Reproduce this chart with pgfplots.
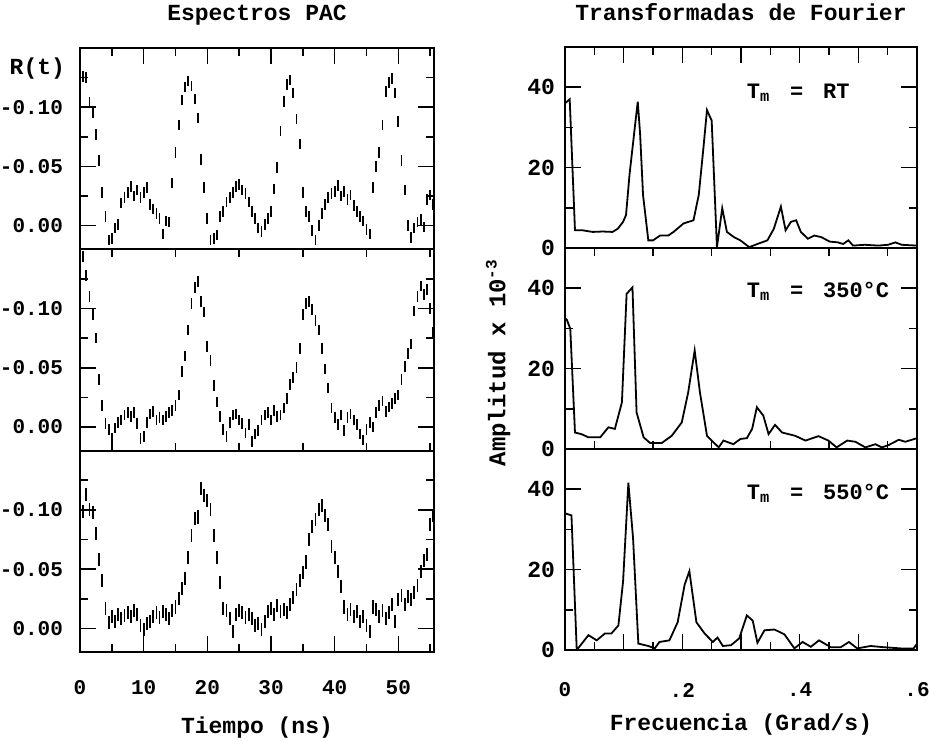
\documentclass[border=0pt]{standalone}
\usepackage{fontspec}
\setmainfont{Liberation Mono}
\usepackage{pgfplots}
\usepackage{pgfplotstable}
\pgfplotsset{compat=1.18}
\newcommand\ff[1]{\fontsize{#1}{#1}\selectfont\bfseries}

% R(t) espectros PAC, T_m = RT, 350 C, 550 C
\pgfplotstableread{
t R
0.5 -0.126
1.0 -0.125
1.5 -0.104
2.0 -0.095
2.5 -0.077
3.0 -0.055
3.5 -0.028
4.0 -0.008
4.5 0.012
5.0 0.011
5.5 0.002
6.0 -0.001
6.5 -0.019
7.0 -0.024
7.5 -0.028
8.0 -0.033
8.5 -0.025
9.0 -0.030
9.5 -0.024
10.0 -0.028
10.5 -0.032
11.0 -0.018
11.5 -0.014
12.0 -0.010
12.5 -0.006
13.0 0.007
13.5 -0.004
14.0 -0.003
14.5 -0.036
15.0 -0.062
15.5 -0.085
16.0 -0.106
16.5 -0.117
17.0 -0.122
17.5 -0.118
18.0 -0.107
18.5 -0.091
19.0 -0.056
19.5 -0.032
20.0 -0.006
20.5 0.012
21.0 0.011
21.5 0.008
22.0 -0.008
22.5 -0.012
23.0 -0.020
23.5 -0.024
24.0 -0.028
24.5 -0.033
25.0 -0.035
25.5 -0.030
26.0 -0.027
26.5 -0.020
27.0 -0.012
27.5 -0.006
28.0 0.002
28.5 0.005
29.0 -0.001
29.5 -0.006
30.0 -0.012
30.5 -0.031
31.0 -0.049
31.5 -0.080
32.0 -0.105
32.5 -0.119
33.0 -0.123
33.5 -0.112
34.0 -0.090
34.5 -0.069
35.0 -0.028
35.5 -0.012
36.0 -0.008
36.5 0.004
37.0 0.012
37.5 0.000
38.0 -0.010
38.5 -0.018
39.0 -0.024
39.5 -0.027
40.0 -0.029
40.5 -0.034
41.0 -0.025
41.5 -0.029
42.0 -0.022
42.5 -0.026
43.0 -0.017
43.5 -0.012
44.0 -0.008
44.5 -0.004
45.0 0.003
45.5 0.007
46.0 -0.032
46.5 -0.050
47.0 -0.062
47.5 -0.085
48.0 -0.113
48.5 -0.121
49.0 -0.124
49.5 -0.112
50.0 -0.088
50.5 -0.055
51.0 -0.030
51.5 0.000
52.0 0.010
52.5 0.002
53.0 -0.003
53.5 -0.005
54.0 0.001
54.5 -0.022
55.0 -0.026
55.5 -0.018
}\pacrt

\pgfplotstableread{
t R
0.5 -0.144
1.0 -0.128
1.5 -0.110
2.0 -0.095
2.5 -0.075
3.0 -0.040
3.5 -0.018
4.0 -0.003
4.5 0.002
5.0 0.010
5.5 0.001
6.0 -0.004
6.5 -0.006
7.0 -0.010
7.5 -0.012
8.0 -0.009
8.5 -0.012
9.0 -0.003
9.5 0.010
10.0 0.008
10.5 -0.004
11.0 -0.011
11.5 -0.013
12.0 -0.006
12.5 -0.008
13.0 -0.006
13.5 -0.009
14.0 -0.012
14.5 -0.014
15.0 -0.018
15.5 -0.027
16.0 -0.047
16.5 -0.060
17.0 -0.082
17.5 -0.104
18.0 -0.118
18.5 -0.123
19.0 -0.106
19.5 -0.097
20.0 -0.068
20.5 -0.056
21.0 -0.035
21.5 -0.021
22.0 -0.009
22.5 0.002
23.0 0.008
23.5 -0.004
24.0 -0.010
24.5 -0.011
25.0 -0.006
25.5 -0.003
26.0 0.005
26.5 -0.002
27.0 0.012
27.5 0.006
28.0 0.003
28.5 -0.006
29.0 -0.010
29.5 -0.012
30.0 -0.006
30.5 -0.014
31.0 -0.009
31.5 -0.010
32.0 -0.016
32.5 -0.024
33.0 -0.036
33.5 -0.042
34.0 -0.050
34.5 -0.066
35.0 -0.095
35.5 -0.104
36.0 -0.106
36.5 -0.099
37.0 -0.090
37.5 -0.082
38.0 -0.066
38.5 -0.049
39.0 -0.033
39.5 -0.016
40.0 -0.008
40.5 -0.002
41.0 -0.010
41.5 0.003
42.0 -0.008
42.5 -0.011
43.0 -0.006
43.5 -0.002
44.0 0.006
44.5 0.011
45.0 0.002
45.5 -0.004
46.0 0.000
46.5 -0.012
47.0 -0.018
47.5 -0.022
48.0 -0.013
48.5 -0.017
49.0 -0.020
49.5 -0.024
50.0 -0.027
50.5 -0.040
51.0 -0.051
51.5 -0.062
52.0 -0.070
52.5 -0.098
53.0 -0.110
53.5 -0.119
54.0 -0.112
54.5 -0.116
55.0 -0.100
55.5 -0.080
}\pacmid

\pgfplotstableread{
t R
0.5 -0.099
1.0 -0.113
1.5 -0.100
2.0 -0.098
2.5 -0.080
3.0 -0.058
3.5 -0.040
4.0 -0.017
4.5 -0.005
5.0 -0.010
5.5 -0.006
6.0 -0.012
6.5 -0.008
7.0 -0.011
7.5 -0.013
8.0 -0.010
8.5 -0.015
9.0 -0.012
9.5 -0.002
10.0 0.001
10.5 -0.004
11.0 -0.006
11.5 -0.010
12.0 -0.013
12.5 -0.009
13.0 -0.014
13.5 -0.012
14.0 -0.008
14.5 -0.015
15.0 -0.018
15.5 -0.025
16.0 -0.034
16.5 -0.042
17.0 -0.060
17.5 -0.078
18.0 -0.093
18.5 -0.094
19.0 -0.118
19.5 -0.112
20.0 -0.108
20.5 -0.100
21.0 -0.078
21.5 -0.060
22.0 -0.039
22.5 -0.017
23.0 -0.015
23.5 -0.008
24.0 0.003
24.5 -0.012
25.0 -0.015
25.5 -0.013
26.0 -0.009
26.5 -0.012
27.0 -0.008
27.5 -0.002
28.0 -0.004
28.5 0.001
29.0 -0.006
29.5 -0.014
30.0 -0.017
30.5 -0.012
31.0 -0.019
31.5 -0.014
32.0 -0.016
32.5 -0.013
33.0 -0.020
33.5 -0.026
34.0 -0.033
34.5 -0.040
35.0 -0.047
35.5 -0.056
36.0 -0.075
36.5 -0.086
37.0 -0.092
37.5 -0.100
38.0 -0.104
38.5 -0.095
39.0 -0.088
39.5 -0.069
40.0 -0.060
40.5 -0.048
41.0 -0.035
41.5 -0.018
42.0 -0.012
42.5 -0.016
43.0 -0.010
43.5 -0.014
44.0 -0.006
44.5 -0.010
45.0 -0.002
45.5 0.003
46.0 -0.018
46.5 -0.016
47.0 -0.010
47.5 -0.015
48.0 -0.008
48.5 -0.013
49.0 -0.020
49.5 -0.006
50.0 -0.024
50.5 -0.028
51.0 -0.020
51.5 -0.027
52.0 -0.024
52.5 -0.030
53.0 -0.036
53.5 -0.048
54.0 -0.057
54.5 -0.062
55.0 -0.088
55.5 -0.095
}\pachigh

\pgfplotsset{
  every axis/.append style={
    scale only axis, anchor=south west,
    axis line style={line width=1pt},
    every tick/.style={black, line width=0.8pt},
    major tick length=8pt, minor tick length=4pt,
    /pgf/number format/assume math mode=true,
    tick label style={font=\ff{10.5}},
    label style={font=\ff{11.5}},
    title style={font=\ff{11.5}, at={(0.5,1)}, anchor=base, yshift=8pt},
  },
  pac/.style={
    width=177pt, height=100.67pt,
    xmin=0, xmax=55.6, ymin=-0.15, ymax=0.02, y dir=reverse,
    xtick={0,10,...,50}, minor xtick={5,15,...,55},
    ytick={-0.1,-0.05,0}, yticklabels={-0.10,-0.05,0.00},
    minor ytick={-0.125,-0.075,-0.025},
    yticklabel style={anchor=east, xshift=-5pt},
  },
  pacdata/.style={draw=none, mark=none,
    error bars/.cd, y dir=both, y fixed=#1, error mark=none,
    error bar style={draw=black, line width=0.9pt}},
  four/.style={
    width=176pt, height=100.5pt,
    xmin=0, xmax=0.6, ymin=0, ymax=50,
    xtick={0,0.1,0.2,0.3,0.4,0.5,0.6}, minor xtick={0.05,0.15,0.25,0.35,0.45,0.55},
    ytick={0,20,40}, minor ytick={10,30},
    yticklabel style={font=\ff{11.5}, xshift=-1.5pt},
  },
  fourdata/.style={black, line width=0.9pt, mark=none},
}
\tikzset{tm/.style={anchor=base west, font=\ff{11}}}

\begin{document}
\begin{tikzpicture}
\path[use as bounding box] (0,0) rectangle (464.5pt,370pt);

% ---- Espectros PAC ----
\begin{axis}[pac, at={(40pt,245.33pt)}, xtick pos=top, xticklabels={,,,,,,,},
  title={Espectros PAC}]
\addplot[pacdata=0.0045] table[x=t,y=R] {\pacrt};
\end{axis}

\begin{axis}[pac, at={(40pt,144.67pt)}, xmajorticks=false, xminorticks=false, xticklabels={,,,,,,,}]
\addplot[pacdata=0.0045] table[x=t,y=R] {\pacmid};
\end{axis}

\begin{axis}[pac, at={(40pt,44pt)}, xtick pos=bottom,
  xticklabel style={anchor=center, yshift=-18pt},
  xlabel={Tiempo (ns)},
  xlabel style={at={(axis description cs:0.5,0)}, anchor=center, yshift=-38pt}]
\addplot[pacdata=0.0055] table[x=t,y=R] {\pachigh};
\end{axis}

\node[anchor=base east, font=\ff{11.5}] at (36pt,332.5pt) {R(t)};

% ---- Transformadas de Fourier ----
\begin{axis}[four, at={(282.5pt,246pt)}, xtick pos=top, xticklabels={,,,,,,,},
  title={Transformadas de Fourier}, title style={yshift=-0.5pt}]
\addplot[fourdata] coordinates {
(0,36) (0.008,37) (0.017,4.4) (0.030,4.4) (0.047,4.0) (0.064,4.1) (0.081,4.0)
(0.090,4.8) (0.099,6.5) (0.104,8.2) (0.110,18.3) (0.119,30) (0.124,36.4)
(0.128,28.4) (0.133,13.2) (0.142,1.9) (0.150,1.9) (0.162,3.1) (0.176,3.1)
(0.185,4.0) (0.202,6.1) (0.219,6.9) (0.228,13.2) (0.236,25) (0.242,34.3)
(0.250,31.7) (0.259,0.2) (0.268,9.9) (0.276,4.0) (0.288,2.7) (0.299,1.9)
(0.314,0.2) (0.328,1.0) (0.345,1.9) (0.356,4.8) (0.368,10.3) (0.376,4.4)
(0.385,6.5) (0.394,6.9) (0.402,4.0) (0.414,2.3) (0.425,3.1) (0.437,2.7)
(0.451,1.6) (0.465,1.4) (0.474,1.0) (0.483,1.9) (0.491,0.6) (0.511,0.8)
(0.534,0.6) (0.551,0.8) (0.563,1.4) (0.574,0.8) (0.6,0.6)};
\node[tm] at (axis cs:0.298,37.3) {T\textsubscript{m}\hspace{0.9em}=\hspace{0.9em}RT};
\end{axis}

\begin{axis}[four, at={(282.5pt,145.5pt)}, xmajorticks=false, xminorticks=false, xticklabels={,,,,,,,},
  ylabel={Amplitud x 10\textsuperscript{-3}},
  ylabel style={at={(axis description cs:-0.19,0.43)}, anchor=center, font=\ff{12}}]
\addplot[fourdata] coordinates {
(0,32.5) (0.003,32.2) (0.009,29.9) (0.017,4.1) (0.028,3.7) (0.040,2.9) (0.060,2.9)
(0.074,5.4) (0.085,5.0) (0.097,11.6) (0.105,38.6) (0.115,40.2) (0.122,9.1)
(0.134,2.9) (0.145,1.5) (0.165,1.5) (0.182,3.3) (0.199,6.6) (0.210,14.1)
(0.221,24.5) (0.230,14.1) (0.242,3.3) (0.250,2.1) (0.262,0.4) (0.270,2.1)
(0.287,1.2) (0.299,2.5) (0.310,2.7) (0.319,5.0) (0.327,10.4) (0.338,8.3)
(0.347,3.7) (0.358,6.0) (0.370,4.1) (0.392,3.3) (0.410,2.1) (0.432,3.2)
(0.449,2.1) (0.463,0.4) (0.481,2.1) (0.495,1.8) (0.512,0.4) (0.529,1.2)
(0.540,0.4) (0.552,1.0) (0.569,2.3) (0.580,1.8) (0.6,2.7)};
\node[tm] at (axis cs:0.298,37.8) {T\textsubscript{m}\hspace{0.9em}=\hspace{0.9em}350°C};
\end{axis}

\begin{axis}[four, at={(282.5pt,45pt)}, xtick pos=bottom,
  xticklabels={0,,.2,,.4,,.6},
  xticklabel style={anchor=center, yshift=-20pt},
  xlabel={Frecuencia (Grad/s)},
  xlabel style={at={(axis description cs:0.5,0)}, anchor=center, yshift=-37.5pt}]
\addplot[fourdata] coordinates {
(0,34) (0.011,33.5) (0.020,0) (0.040,3.7) (0.054,2.4) (0.068,4.1) (0.079,4.1)
(0.091,6.1) (0.099,17.1) (0.108,41.6) (0.116,27.8) (0.125,1.6) (0.142,1.0)
(0.153,0.4) (0.161,2.0) (0.178,2.4) (0.192,6.9) (0.204,16.3) (0.212,19.6)
(0.224,6.9) (0.238,4.1) (0.252,2.0) (0.260,3.1) (0.269,1.0) (0.283,1.2)
(0.297,2.9) (0.310,8.6) (0.320,7.3) (0.328,1.8) (0.340,4.9) (0.357,5.1)
(0.374,3.9) (0.391,0.4) (0.405,2.0) (0.419,0.8) (0.433,2.4) (0.453,0.7)
(0.470,0.7) (0.484,2.0) (0.498,0.4) (0.521,1.0) (0.543,0.7) (0.572,0.4)
(0.594,0.4) (0.6,1.5)};
\node[tm] at (axis cs:0.298,37.4) {T\textsubscript{m}\hspace{0.9em}=\hspace{0.9em}550°C};
\end{axis}
\end{tikzpicture}
\end{document}
